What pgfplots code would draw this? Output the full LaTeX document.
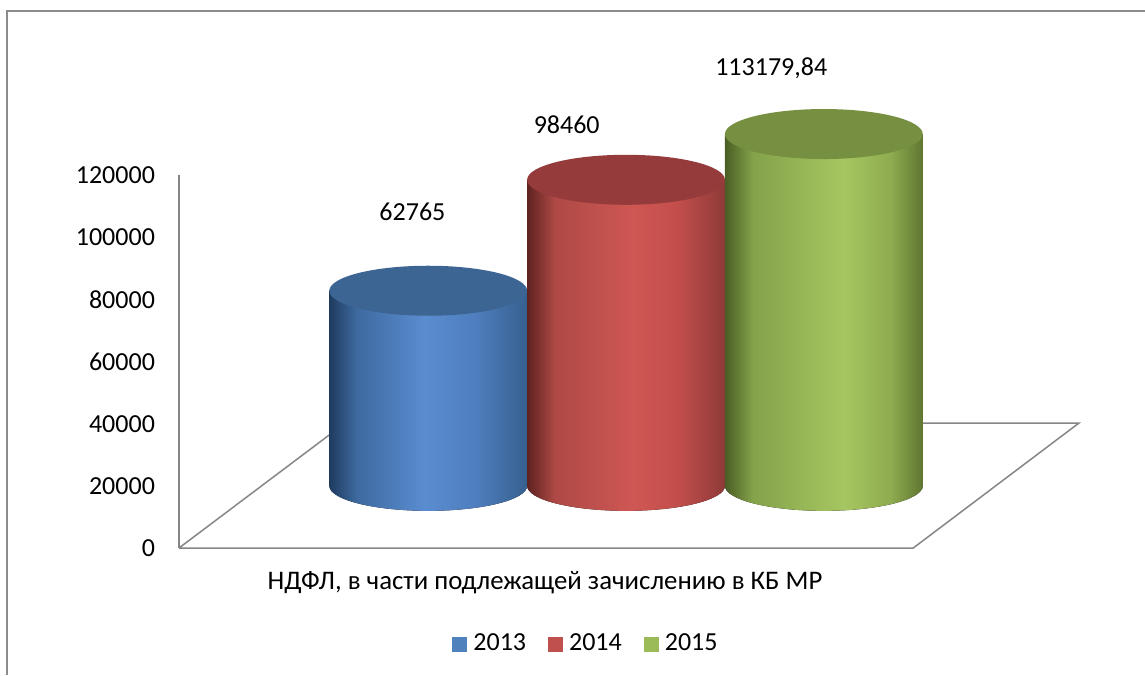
\documentclass[border=0pt]{standalone}
\usepackage{pgfplots}
\pgfplotsset{compat=1.18}
\usepackage{fontspec}
\setmainfont{Carlito}

\definecolor{axgray}{HTML}{868686}
\definecolor{framegray}{HTML}{8C8C8C}
\definecolor{c2013}{HTML}{4F81BD}
\definecolor{c2014}{HTML}{C0504D}
\definecolor{c2015}{HTML}{9BBB59}
% cylinder body colours
\definecolor{bA}{HTML}{1F3B5F}\definecolor{bB}{HTML}{3E6AA0}\definecolor{bC}{HTML}{5A8CD0}\definecolor{bD}{HTML}{4E7EBE}\definecolor{bE}{HTML}{37608F}
\definecolor{rA}{HTML}{5E2220}\definecolor{rB}{HTML}{AE4946}\definecolor{rC}{HTML}{CF5753}\definecolor{rD}{HTML}{C24E4B}\definecolor{rE}{HTML}{8E3A38}
\definecolor{gA}{HTML}{4A5D24}\definecolor{gB}{HTML}{84A24A}\definecolor{gC}{HTML}{A6C661}\definecolor{gD}{HTML}{8EAB4F}\definecolor{gE}{HTML}{5F7631}
\definecolor{tBlue}{HTML}{3C6593}
\definecolor{tRed}{HTML}{953B3B}
\definecolor{tGreen}{HTML}{778F40}

\pgfdeclarehorizontalshading{cylblue}{100bp}{color(0bp)=(bA); color(25bp)=(bA); color(32bp)=(bB); color(49bp)=(bC); color(62bp)=(bD); color(75bp)=(bE); color(100bp)=(bE)}
\pgfdeclarehorizontalshading{cylred}{100bp}{color(0bp)=(rA); color(25bp)=(rA); color(32bp)=(rB); color(52bp)=(rC); color(63bp)=(rD); color(75bp)=(rE); color(100bp)=(rE)}
\pgfdeclarehorizontalshading{cylgreen}{100bp}{color(0bp)=(gA); color(25bp)=(gA); color(32bp)=(gB); color(55bp)=(gC); color(67bp)=(gD); color(75bp)=(gE); color(100bp)=(gE)}

% data values
\def\vA{62765}
\def\vB{98460}
\def\vC{113179.84}

\begin{document}
\begin{tikzpicture}
\useasboundingbox (0,0) rectangle (572.5pt,337.5pt);
\fill[white] (0,0) rectangle (572.5pt,337.5pt);
\draw[framegray, line width=0.7pt] (3.5pt,0) -- (3.5pt,332pt) -- (572.5pt,332pt);

% main axis: value axis and floor
\begin{axis}[
  at={(89.5pt,63.5pt)}, anchor=south west, scale only axis,
  width=450pt, height=186.5pt,
  xmin=-1.26, xmax=3.29, ymin=0, ymax=120000,
  axis x line=none, axis y line*=left,
  y axis line style={draw=axgray, line width=0.75pt, -},
  ytick={0,20000,40000,60000,80000,100000,120000},
  major tick length=0pt,
  scaled y ticks=false,
  /pgf/number format/assume math mode=true,
  yticklabel style={/pgf/number format/fixed, /pgf/number format/1000 sep={}, font=\fontsize{13}{15}\selectfont, xshift=-8.5pt},
  clip=false,
  legend style={at={(0.4511,-0.2574)}, anchor=center, draw=none, fill=none,
    legend columns=-1, font=\fontsize{13}{15}\selectfont,
    /tikz/every odd column/.append style={column sep=3pt},
    /tikz/every even column/.append style={column sep=11pt},
    nodes={inner sep=0pt}},
  legend image code/.code={\fill[#1, draw=none] (0pt,-3.75pt) rectangle (7.5pt,3.75pt);},
]
\addplot[draw=axgray, line width=0.75pt, forget plot] coordinates {(-1.26,0) (2.452,0) (3.29,40215) (-0.42,40215) (-1.26,0)};
\addlegendimage{fill=c2013, draw=none}\addlegendentry{2013}
\addlegendimage{fill=c2014, draw=none}\addlegendentry{2014}
\addlegendimage{fill=c2015, draw=none}\addlegendentry{2015}
\end{axis}

% cylinder axis: same scale, base level 20000 higher
\begin{axis}[
  at={(89.5pt,63.5pt)}, anchor=south west, scale only axis,
  width=450pt, height=186.5pt,
  xmin=-1.26, xmax=3.29, ymin=-20000, ymax=100000,
  hide axis, clip=false,
]
% 2013
\fill[shading=cylblue] (axis cs:0,0) ellipse [x radius=49.45pt, y radius=12.5pt];
\addplot[ybar, bar width=1, bar shift=0pt, draw=none, shading=cylblue] coordinates {(0,\vA)};
\fill[tBlue] (axis cs:0,\vA) ellipse [x radius=49.45pt, y radius=12.5pt];
% 2014
\fill[shading=cylred] (axis cs:1,0) ellipse [x radius=49.45pt, y radius=12.5pt];
\addplot[ybar, bar width=1, bar shift=0pt, draw=none, shading=cylred] coordinates {(1,\vB)};
\fill[tRed] (axis cs:1,\vB) ellipse [x radius=49.45pt, y radius=12.5pt];
% 2015
\fill[shading=cylgreen] (axis cs:2,0) ellipse [x radius=49.45pt, y radius=12.5pt];
\addplot[ybar, bar width=1, bar shift=0pt, draw=none, shading=cylgreen] coordinates {(2,\vC)};
\fill[tGreen] (axis cs:2,\vC) ellipse [x radius=49.45pt, y radius=12.5pt];
% data labels
\node[font=\fontsize{13}{15}\selectfont] at (axis cs:-0.08,88100) {62765};
\node[font=\fontsize{13}{15}\selectfont] at (axis cs:0.70,116090) {98460};
\node[font=\fontsize{13}{15}\selectfont] at (axis cs:1.734,134430) {113179,84};
\end{axis}

\node[font=\fontsize{13.4}{16}\selectfont] at (272.5pt,46pt) {НДФЛ, в части подлежащей зачислению в КБ МР};
\end{tikzpicture}
\end{document}
